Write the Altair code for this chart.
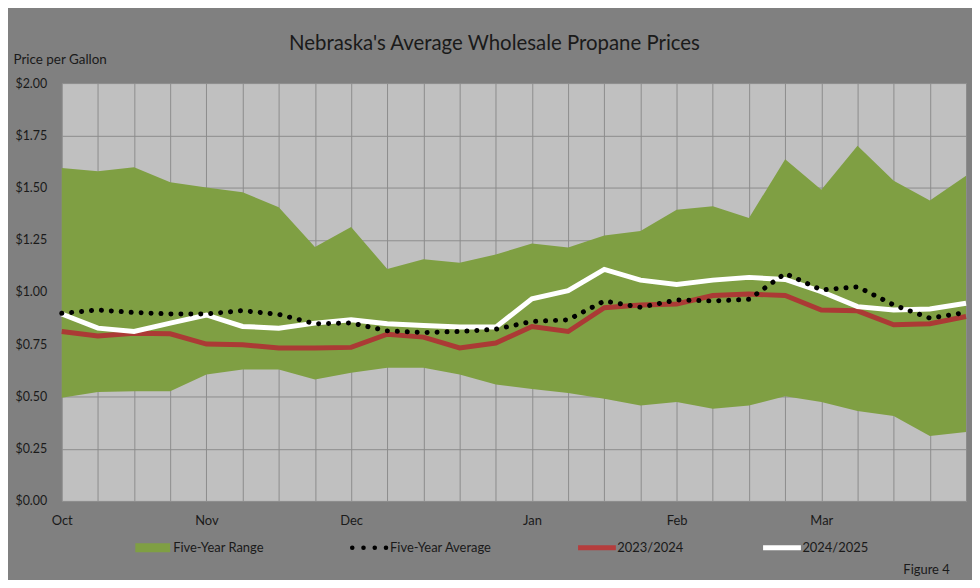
import altair as alt
import pandas as pd

# ---- data ----
weeks = list(range(26))
month_names = ["Oct", "Nov", "Dec", "Jan", "Feb", "Mar"]
month_weeks = [0, 4, 8, 13, 17, 21]

five_year_max = [1.594, 1.578, 1.597, 1.525, 1.500, 1.478, 1.406, 1.216, 1.311, 1.110,
                 1.157, 1.140, 1.180, 1.232, 1.213, 1.271, 1.292, 1.394, 1.410, 1.354,
                 1.636, 1.489, 1.700, 1.533, 1.438, 1.557]
five_year_min = [0.494, 0.521, 0.525, 0.525, 0.605, 0.629, 0.629, 0.581, 0.613, 0.637,
                 0.637, 0.605, 0.557, 0.536, 0.517, 0.489, 0.457, 0.473, 0.441, 0.457,
                 0.501, 0.473, 0.430, 0.406, 0.311, 0.330]
five_year_avg = [0.898, 0.914, 0.902, 0.895, 0.895, 0.911, 0.893, 0.848, 0.852, 0.814,
                 0.806, 0.811, 0.822, 0.859, 0.867, 0.957, 0.927, 0.962, 0.957, 0.965,
                 1.089, 1.010, 1.025, 0.938, 0.875, 0.902]
prices_2324 = [0.811, 0.790, 0.803, 0.800, 0.751, 0.748, 0.732, 0.732, 0.735, 0.798,
               0.784, 0.732, 0.756, 0.835, 0.811, 0.925, 0.938, 0.943, 0.983, 0.990,
               0.983, 0.914, 0.910, 0.843, 0.848, 0.883]
prices_2425 = [0.895, 0.827, 0.811, 0.851, 0.890, 0.835, 0.827, 0.851, 0.867, 0.848,
               0.840, 0.832, 0.832, 0.967, 1.006, 1.108, 1.057, 1.036, 1.057, 1.070,
               1.060, 1.002, 0.930, 0.914, 0.919, 0.946]
y_ticks = [0, 0.25, 0.5, 0.75, 1.0, 1.25, 1.5, 1.75, 2.0]

series_names = ["Five-Year Range", "Five-Year Average", "2023/2024", "2024/2025"]
title_text = "Nebraska's Average Wholesale Propane Prices"
y_title = "Price per Gallon"
figure_note = "Figure 4"

# ---- styling ----
FONT = "Lato"
TXT = "#1a1a1a"
GREEN = "#7f9f43"
RED = "#ab3a35"
WHITE = "#ffffff"
W, H = 909, 420

df = pd.DataFrame({
    "week": weeks,
    "lo": five_year_min,
    "hi": five_year_max,
    "avg": five_year_avg,
    "y2324": prices_2324,
    "y2425": prices_2425,
})

label_arr = [""] * len(weeks)
for n, w in zip(month_names, month_weeks):
    label_arr[w] = n
label_expr = "[" + ",".join("'" + s + "'" for s in label_arr) + "][datum.value]"

x_scale = alt.Scale(domain=[0, 25], nice=False, zero=False)
y_scale = alt.Scale(domain=[0, 2], nice=False)
x_axis = alt.Axis(values=weeks, labelExpr=label_expr, grid=True, title=None,
                  tickSize=0, ticks=False, domain=False, labelPadding=20,
                  labelBaseline="middle", labelAlign="center", labelFontSize=13,
                  labelOverlap=False, labelFlush=False)
y_axis = alt.Axis(values=y_ticks, format="$.2f", grid=True, title=y_title,
                  tickSize=0, ticks=False, domain=False, labelPadding=47,
                  labelAlign="left", labelBaseline="middle", labelFontSize=12.5,
                  titleAngle=0, titleX=-49, titleY=-24, titleAlign="left",
                  titleBaseline="middle", titleFontWeight="normal", titleFontSize=13.5,
                  titleFont=FONT, titleColor=TXT)

X = alt.X("week:Q", scale=x_scale, axis=x_axis)

base = alt.Chart(df)
area = base.mark_area(color=GREEN, opacity=1).encode(
    x=X, y=alt.Y("lo:Q", scale=y_scale, axis=y_axis), y2="hi:Q")
red = base.mark_line(color=RED, strokeWidth=5).encode(
    x=X, y=alt.Y("y2324:Q", scale=y_scale, axis=y_axis))
white = base.mark_line(color=WHITE, strokeWidth=5).encode(
    x=X, y=alt.Y("y2425:Q", scale=y_scale, axis=y_axis))
dots = base.mark_line(color="#000000", strokeWidth=5, strokeCap="round",
                      strokeDash=[0.1, 9.9]).encode(
    x=X, y=alt.Y("avg:Q", scale=y_scale, axis=y_axis))

one = pd.DataFrame({"k": [0]})


def txt(s, x, y, size=13, align="left", baseline="middle"):
    return alt.Chart(one).mark_text(text=s, font=FONT, fontSize=size, color=TXT,
                                    align=align, baseline=baseline).encode(
        x=alt.value(x), y=alt.value(y))


title = txt(title_text, 435, -33.5, size=20.5, align="center", baseline="alphabetic")

leg_y = 467
leg_range = alt.Chart(one).mark_rect(color=GREEN).encode(
    x=alt.value(74), x2=alt.value(109), y=alt.value(leg_y - 4.5), y2=alt.value(leg_y + 4.5))
leg_avg = alt.Chart(one).mark_rule(color="#000000", strokeWidth=4.5, strokeCap="round",
                                   strokeDash=[0.1, 11.2]).encode(
    x=alt.value(292), x2=alt.value(328), y=alt.value(leg_y))
leg_red = alt.Chart(one).mark_rule(color="#b53d3d", strokeWidth=5).encode(
    x=alt.value(519), x2=alt.value(557), y=alt.value(leg_y))
leg_white = alt.Chart(one).mark_rule(color=WHITE, strokeWidth=5).encode(
    x=alt.value(705), x2=alt.value(743), y=alt.value(leg_y))

legend_texts = [
    txt(series_names[0], 112, leg_y),
    txt(series_names[1], 330, leg_y),
    txt(series_names[2], 558.5, leg_y),
    txt(series_names[3], 744.5, leg_y),
    txt(figure_note, 846, 489),
]

chart = alt.layer(
    area, red, white, dots, title,
    leg_range, leg_avg, leg_red, leg_white, *legend_texts
).properties(
    width=W, height=H,
    background="#808080",
    padding={"left": 54, "top": 74, "right": 6, "bottom": 78},
    autosize=alt.AutoSizeParams(type="none"),
).configure_view(
    fill="#c0c0c0", stroke="transparent"
).configure_axis(
    labelFont=FONT, labelColor=TXT, gridColor="#8c8c8c", gridWidth=1,
    titleFont=FONT, titleColor=TXT,
)

chart.save("out.html", embed_options={"renderer": "svg", "actions": False})
